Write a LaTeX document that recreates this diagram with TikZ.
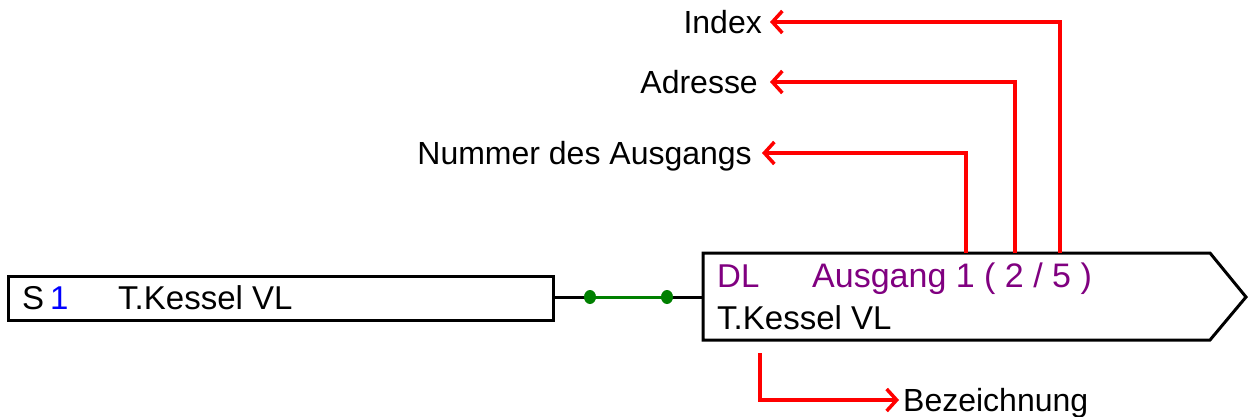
\documentclass[tikz,border=0pt]{standalone}
\usepackage{fontspec}
\setmainfont{Liberation Sans}
\usetikzlibrary{arrows.meta}
\definecolor{pur}{RGB}{128,0,128}
\definecolor{grn}{RGB}{0,128,0}
\definecolor{blu}{RGB}{0,0,255}
\begin{document}
\begin{tikzpicture}[x=1pt,y=-1pt,
  box/.style={draw=black,line width=3pt,fill=white},
  lbl/.style={font=\fontsize{32}{36}\selectfont,inner sep=0pt,text height=23pt,text depth=0pt},
  txt/.style={font=\fontsize{33}{38}\selectfont,inner sep=0pt,anchor=base west},
  redarr/.style={draw=red,line width=4pt,-{Straight Barb[length=10pt,width=22pt,line width=3.5pt]}},
  dot/.style={ellipse,fill=grn,inner sep=0pt,minimum width=12pt,minimum height=14pt}]
\useasboundingbox (0,0) rectangle (1248,416);
% source box
\draw[box] (8,276) rectangle (553,320);
\coordinate (src) at (553,297);
\node[txt] (s) at (22,309) {S};
\node[txt,text=blu] (s1) at (50,309) {1};
\node[txt] (sname) at (118,309) {T.Kessel VL};
% destination box
\draw[box] (703,253) coordinate (dtl) -- (1210,253) -- (1246,297) coordinate (tip) -- (1210,340) -- (703,340) coordinate (dbl) -- cycle;
\coordinate (dstL) at (703,297);
\node[txt,text=pur] (dl) at (717,287) {DL};
\node[txt,text=pur,font=\fontsize{34}{38}\selectfont] (aus) at (812,287) {Ausgang 1 ( 2 / 5 )};
\node[txt] (dname) at (717,329) {T.Kessel VL};
% connection
\draw[line width=3pt] (src) -- (590,297) coordinate (g1);
\draw[line width=3pt] (667,297) coordinate (g2) -- (dstL);
\draw[grn,line width=3pt] (g1) -- (g2);
\fill[grn] (g1) ellipse[x radius=6pt,y radius=7pt];
\fill[grn] (g2) ellipse[x radius=6pt,y radius=7pt];
% labels
\node[lbl,anchor=east] (idx) at (762,22) {Index};
\node[lbl,anchor=east] (adr) at (758,82) {Adresse};
\node[lbl,anchor=east] (num) at (752,153) {Nummer des Ausgangs};
\node[lbl,anchor=west] (bez) at (903,400) {Bezeichnung};
\coordinate (o1) at (966,253);
\coordinate (o2) at (1015,253);
\coordinate (o3) at (1060,253);
\coordinate (o4) at (760,353);
\draw[redarr] (o1) |- ([xshift=10pt]num.east);
\draw[redarr] (o2) |- ([xshift=12pt]adr.east);
\draw[redarr] (o3) |- ([xshift=8pt]idx.east);
\draw[redarr] (o4) |- ([xshift=-4pt]bez.west);
\end{tikzpicture}
\end{document}
